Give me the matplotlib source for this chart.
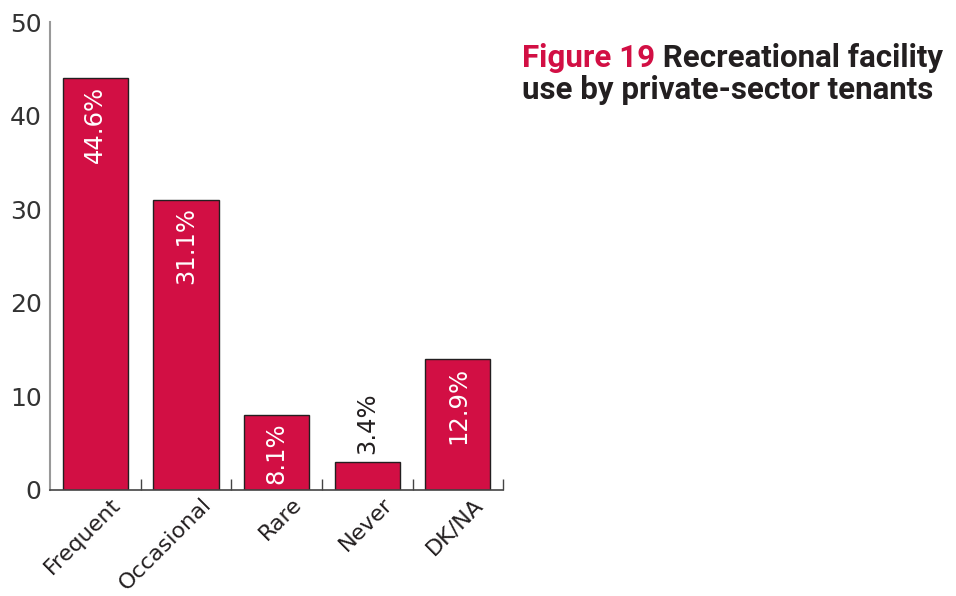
import matplotlib.pyplot as plt
import matplotlib.transforms as mtransforms
from matplotlib.ticker import FixedLocator

# ---- 数据 ----
categories = ["Frequent", "Occasional", "Rare", "Never", "DK/NA"]
bar_values = [44.0, 31.0, 8.0, 3.0, 14.0]
bar_labels = ["44.6%", "31.1%", "8.1%", "3.4%", "12.9%"]
y_ticks = [0, 10, 20, 30, 40, 50]

RED = "#D20F44"
DARK = "#231F20"

plt.rcParams['font.family'] = ['DejaVu Sans']

fig = plt.figure(figsize=(9.56, 5.96), dpi=100)
ax = fig.add_axes([0.0523, 0.178, 0.474, 0.785])

x = range(len(categories))
bars = ax.bar(x, bar_values, width=0.72, color=RED, edgecolor=DARK, linewidth=1.0, zorder=2)

# 柱内/柱上标签
for i, (v, lab) in enumerate(zip(bar_values, bar_labels)):
    if v > 6:
        ax.text(i, v - 0.8, lab, rotation=90, ha='center', va='top',
                color='white', fontsize=17.5, zorder=3)
    else:
        ax.text(i, v + 0.8, lab, rotation=90, ha='center', va='bottom',
                color=DARK, fontsize=17.5, zorder=3)

ax.set_xlim(-0.5, 4.5)
ax.set_ylim(0, 50)
ax.set_yticks(y_ticks)
ax.set_yticklabels([str(t) for t in y_ticks], fontsize=18, color="#333333")
ax.tick_params(axis='y', length=0, pad=6)

ax.set_xticks(list(x))
ax.set_xticklabels(categories, rotation=45, ha='right', rotation_mode='anchor',
                   fontsize=16, color=DARK)
ax.tick_params(axis='x', which='major', length=0, pad=3)
# 标签整体右移一点
shift = mtransforms.ScaledTranslation(11 / 72, 0, fig.dpi_scale_trans)
for lbl in ax.get_xticklabels():
    lbl.set_transform(lbl.get_transform() + shift)
ax.xaxis.set_minor_locator(FixedLocator([0.5, 1.5, 2.5, 3.5, 4.5]))
ax.tick_params(axis='x', which='minor', direction='in', length=8, width=1, color="#444444")

for s in ['top', 'right']:
    ax.spines[s].set_visible(False)
ax.spines['left'].set_color("#999999")
ax.spines['left'].set_linewidth(1.5)
ax.spines['bottom'].set_color("#444444")
ax.spines['bottom'].set_linewidth(1.2)

# 标题 (两种颜色)
title_font = ['Roboto', 'DejaVu Sans']
t1 = fig.text(0.546, 0.8876, "Figure 19", color=RED, fontsize=22.5, fontweight='bold',
              va='baseline', family=title_font)
ax.annotate(" Recreational facility", xy=(1, 0), xycoords=t1, va='bottom',
            fontsize=22.5, fontweight='bold', color=DARK, annotation_clip=False,
            family=title_font)
fig.text(0.546, 0.834, "use by private-sector tenants", color=DARK, fontsize=22.5,
         fontweight='bold', va='baseline', family=title_font)

fig.savefig("out.png", dpi=100)
